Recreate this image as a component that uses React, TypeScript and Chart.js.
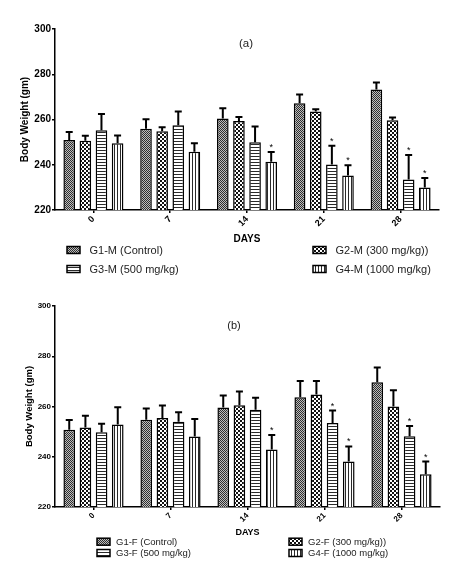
import React, { useEffect, useRef } from 'react';
import { Chart, registerables } from 'chart.js';
Chart.register(...registerables);

const days = ['0', '7', '14', '21', '28'];

const maleLabels = ['G1-M (Control)', 'G2-M (300 mg/kg))', 'G3-M (500 mg/kg)', 'G4-M (1000 mg/kg)'];
const femaleLabels = ['G1-F (Control)', 'G2-F (300 mg/kg))', 'G3-F (500 mg/kg)', 'G4-F (1000 mg/kg)'];

const maleG1 = [250.9, 255.9, 260.4, 267.2, 273.3];
const maleG1Err = [3.6, 4.2, 4.6, 3.9, 3.1];
const maleG2 = [250.6, 254.8, 259.3, 263.5, 259.7];
const maleG2Err = [2.2, 1.8, 1.8, 1.0, 1.2];
const maleG3 = [255.3, 257.5, 250.0, 240.1, 233.5];
const maleG3Err = [7.1, 6.0, 6.9, 8.3, 10.8];
const maleG4 = [249.5, 245.7, 241.3, 235.2, 230.0];
const maleG4Err = [3.4, 3.8, 4.3, 4.6, 4.1];

const femaleG1 = [250.7, 254.7, 259.6, 263.7, 269.7];
const femaleG1Err = [3.9, 4.5, 4.8, 6.4, 5.8];
const femaleG2 = [251.6, 255.4, 260.5, 264.8, 260.0];
const femaleG2Err = [4.7, 5.0, 5.5, 5.3, 6.5];
const femaleG3 = [249.8, 253.9, 258.7, 253.4, 248.2];
const femaleG3Err = [3.3, 3.8, 4.8, 5.0, 4.0];
const femaleG4 = [252.8, 248.1, 242.9, 238.1, 233.0];
const femaleG4Err = [6.9, 6.9, 5.8, 6.0, 5.1];

const noStars = [false, false, false, false, false];
const g3Stars = [false, false, false, true, true];
const g4Stars = [false, false, true, true, true];

const yTicks = [220, 240, 260, 280, 300];

const FONT = '"Liberation Sans", Arial, sans-serif';

type Kind = 'stipple' | 'checker' | 'hlines' | 'vlines';
const kinds: Kind[] = ['stipple', 'checker', 'hlines', 'vlines'];

function makePattern(kind: Kind): CanvasPattern | string {
  const c = document.createElement('canvas');
  const ctx = c.getContext('2d');
  if (!ctx) return '#888';
  if (kind === 'stipple') {
    c.width = 2; c.height = 2;
    ctx.fillStyle = '#bdbdbd'; ctx.fillRect(0, 0, 2, 2);
    ctx.fillStyle = '#2e2e2e'; ctx.fillRect(0, 0, 1, 1); ctx.fillRect(1, 1, 1, 1);
  } else if (kind === 'checker') {
    c.width = 4; c.height = 4;
    ctx.fillStyle = '#ffffff'; ctx.fillRect(0, 0, 4, 4);
    ctx.fillStyle = '#111111'; ctx.fillRect(0, 0, 2, 2); ctx.fillRect(2, 2, 2, 2);
  } else if (kind === 'hlines') {
    c.width = 3; c.height = 3;
    ctx.fillStyle = '#ffffff'; ctx.fillRect(0, 0, 3, 3);
    ctx.fillStyle = '#2a2a2a'; ctx.fillRect(0, 0, 3, 1);
  } else {
    c.width = 3; c.height = 3;
    ctx.fillStyle = '#ffffff'; ctx.fillRect(0, 0, 3, 3);
    ctx.fillStyle = '#2a2a2a'; ctx.fillRect(0, 0, 1, 3);
  }
  return ctx.createPattern(c, 'repeat') || '#888';
}

interface Series { label: string; values: number[]; errors: number[]; stars: boolean[]; kind: Kind; }

interface Cfg {
  height: number;
  series: Series[];
  title: string;
  titleX: number; titleY: number; titleSize: number;
  padTop: number; padBottom: number; padRight: number;
  xHeight: number;
  tickSize: number; xTickSize: number;
  yTitleSize: number; yTitlePad: number;
  daysSize: number;
  legendCols: number[]; legendRows: number[];
  legendGap: number; legendSize: number;
  boxW: number; boxH: number;
}

const maleSeries: Series[] = [
  { label: maleLabels[0], values: maleG1, errors: maleG1Err, stars: noStars, kind: kinds[0] },
  { label: maleLabels[1], values: maleG2, errors: maleG2Err, stars: noStars, kind: kinds[1] },
  { label: maleLabels[2], values: maleG3, errors: maleG3Err, stars: g3Stars, kind: kinds[2] },
  { label: maleLabels[3], values: maleG4, errors: maleG4Err, stars: g4Stars, kind: kinds[3] },
];
const femaleSeries: Series[] = [
  { label: femaleLabels[0], values: femaleG1, errors: femaleG1Err, stars: noStars, kind: kinds[0] },
  { label: femaleLabels[1], values: femaleG2, errors: femaleG2Err, stars: noStars, kind: kinds[1] },
  { label: femaleLabels[2], values: femaleG3, errors: femaleG3Err, stars: g3Stars, kind: kinds[2] },
  { label: femaleLabels[3], values: femaleG4, errors: femaleG4Err, stars: g4Stars, kind: kinds[3] },
];

const topCfg: Cfg = {
  height: 288, series: maleSeries, title: '(a)',
  titleX: 246, titleY: 44, titleSize: 11.5,
  padTop: 29, padBottom: 43, padRight: 12, xHeight: 35,
  tickSize: 10, xTickSize: 9, yTitleSize: 10, yTitlePad: 19, daysSize: 10,
  legendCols: [67, 313], legendRows: [250, 269], legendGap: 9.5, legendSize: 11,
  boxW: 13, boxH: 7,
};
const bottomCfg: Cfg = {
  height: 285, series: femaleSeries, title: '(b)',
  titleX: 234, titleY: 38, titleSize: 11,
  padTop: 18, padBottom: 35, padRight: 11, xHeight: 31,
  tickSize: 8, xTickSize: 8, yTitleSize: 9.5, yTitlePad: 24, daysSize: 9,
  legendCols: [97, 289], legendRows: [253.7, 265], legendGap: 6, legendSize: 9.5,
  boxW: 13, boxH: 7,
};

function buildChart(canvas: HTMLCanvasElement, cfg: Cfg): Chart {
  const patterns = cfg.series.map((s) => makePattern(s.kind));
  const datasets = cfg.series.map((s, i) => ({
    label: s.label,
    data: s.values,
    backgroundColor: patterns[i] as any,
    borderColor: '#000',
    borderWidth: 1.5,
    borderSkipped: false as any,
    categoryPercentage: 0.84,
    barPercentage: 0.72,
  }));

  const errorPlugin = {
    id: 'errorBars',
    afterDatasetsDraw(chart: any) {
      const ctx = chart.ctx as CanvasRenderingContext2D;
      const yS = chart.scales.y;
      cfg.series.forEach((s, i) => {
        const meta = chart.getDatasetMeta(i);
        meta.data.forEach((el: any, j: number) => {
          const x = el.x;
          const top = el.y;
          const e = yS.getPixelForValue(s.values[j] + s.errors[j]);
          ctx.save();
          ctx.strokeStyle = '#000';
          ctx.lineWidth = 2;
          ctx.beginPath();
          ctx.moveTo(x, top);
          ctx.lineTo(x, e);
          ctx.moveTo(x - 3.5, e);
          ctx.lineTo(x + 3.5, e);
          ctx.stroke();
          if (s.stars[j]) {
            ctx.fillStyle = '#000';
            ctx.font = `9px ${FONT}`;
            ctx.textAlign = 'center';
            ctx.textBaseline = 'alphabetic';
            ctx.fillText('*', x, e - 2);
          }
          ctx.restore();
        });
      });
    },
  };

  const overlayPlugin = {
    id: 'overlay',
    afterDraw(chart: any) {
      const ctx = chart.ctx as CanvasRenderingContext2D;
      ctx.save();
      ctx.fillStyle = '#222';
      ctx.font = `${cfg.titleSize}px ${FONT}`;
      ctx.textAlign = 'center';
      ctx.textBaseline = 'middle';
      ctx.fillText(cfg.title, cfg.titleX, cfg.titleY);
      ctx.textAlign = 'left';
      ctx.font = `${cfg.legendSize}px ${FONT}`;
      cfg.series.forEach((s, i) => {
        const x = cfg.legendCols[i % 2];
        const y = cfg.legendRows[Math.floor(i / 2)];
        ctx.fillStyle = patterns[i] as any;
        ctx.fillRect(x, y - cfg.boxH / 2, cfg.boxW, cfg.boxH);
        ctx.strokeStyle = '#000';
        ctx.lineWidth = 1.5;
        ctx.strokeRect(x, y - cfg.boxH / 2, cfg.boxW, cfg.boxH);
        ctx.fillStyle = '#222';
        ctx.fillText(s.label, x + cfg.boxW + cfg.legendGap, y + 0.5);
      });
      ctx.restore();
    },
  };

  return new Chart(canvas, {
    type: 'bar',
    data: { labels: days, datasets },
    options: {
      animation: false,
      responsive: false,
      devicePixelRatio: 1,
      layout: { padding: { top: cfg.padTop, bottom: cfg.padBottom, left: 0, right: cfg.padRight } },
      plugins: { legend: { display: false }, tooltip: { enabled: false }, title: { display: false } },
      scales: {
        x: {
          grid: { offset: false, drawOnChartArea: false, drawTicks: true, tickLength: 3, color: '#000', lineWidth: 1.5 },
          border: { color: '#000', width: 1.5 },
          ticks: {
            minRotation: 45, maxRotation: 45, autoSkip: false, color: '#000', padding: 1,
            font: { family: FONT, size: cfg.xTickSize, weight: 'bold' },
          },
          title: {
            display: true, text: 'DAYS', color: '#000', padding: 0,
            font: { family: FONT, size: cfg.daysSize, weight: 'bold' },
          },
          afterFit: (s: any) => { s.height = cfg.xHeight; },
        },
        y: {
          min: yTicks[0],
          max: yTicks[yTicks.length - 1],
          afterBuildTicks: (s: any) => { s.ticks = yTicks.map((v) => ({ value: v })); },
          grid: { drawOnChartArea: false, drawTicks: true, tickLength: 3, color: '#000', lineWidth: 1.5 },
          border: { color: '#000', width: 1.5 },
          ticks: {
            color: '#000', padding: 1,
            font: { family: FONT, size: cfg.tickSize, weight: 'bold' },
          },
          title: {
            display: true, text: 'Body Weight (gm)', color: '#000',
            padding: { top: cfg.yTitlePad, bottom: 0 },
            font: { family: FONT, size: cfg.yTitleSize, weight: 'bold' },
          },
          afterFit: (s: any) => { s.width = 55; },
        },
      },
    } as any,
    plugins: [errorPlugin, overlayPlugin],
  });
}

function ChartPanel({ cfg }: { cfg: Cfg }) {
  const ref = useRef<HTMLCanvasElement | null>(null);
  useEffect(() => {
    if (!ref.current) return;
    const chart = buildChart(ref.current, cfg);
    return () => chart.destroy();
  }, [cfg]);
  return <canvas ref={ref} width={451} height={cfg.height} style={{ display: 'block', width: 451, height: cfg.height }} />;
}

export default function App() {
  return (
    <div style={{ position: 'fixed', left: 0, top: 0, width: 451, height: 573, background: '#fff', overflow: 'hidden' }}>
      <ChartPanel cfg={topCfg} />
      <ChartPanel cfg={bottomCfg} />
    </div>
  );
}
